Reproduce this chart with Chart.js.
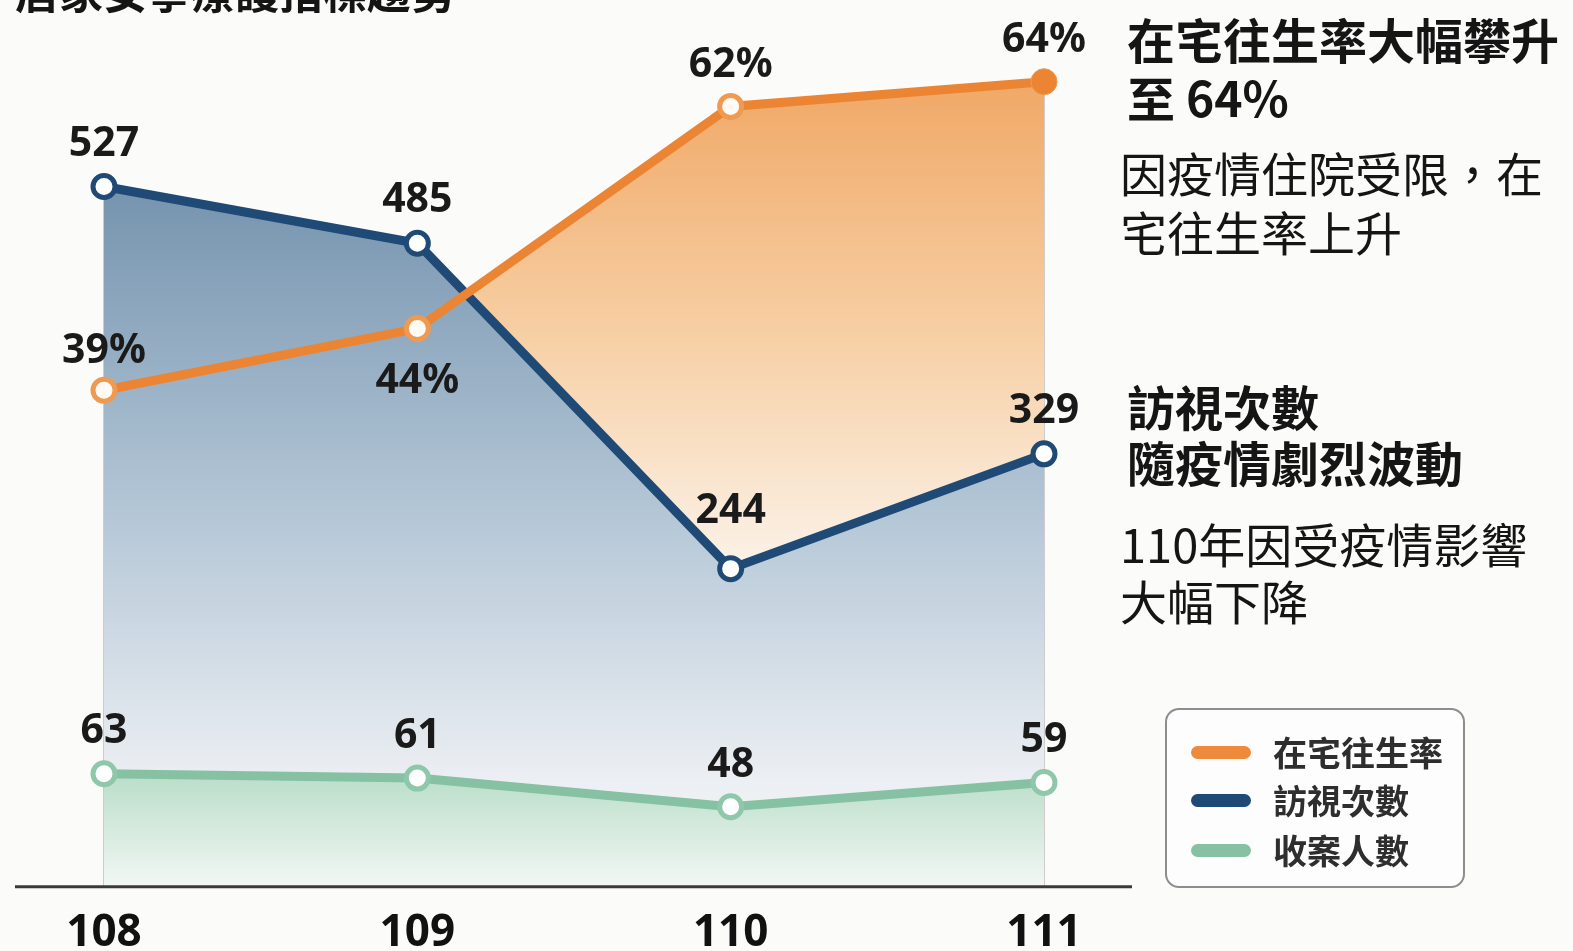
<!DOCTYPE html>
<html>
<head>
<meta charset="utf-8">
<script src="https://cdn.jsdelivr.net/npm/chart.js@4.4.1/dist/chart.umd.min.js"></script>
<style>
  html, body { margin: 0; padding: 0; background: #fbfbfa; }
  #wrap { position: relative; width: 1573px; height: 951px; overflow: hidden; }
  #chartBox { position: absolute; left: 0; top: 0; width: 1573px; height: 951px; }
  .cjk { font-family: "Noto Sans CJK TC", "Noto Sans", sans-serif; color: #151515; position: absolute; white-space: nowrap; }
  .head { font-weight: 700; font-size: 48px; }
  .body { font-weight: 400; font-size: 47px; }
  #legend { position: absolute; left: 1165px; top: 708px; width: 296px; height: 176px;
            border: 2px solid #8d8d8d; border-radius: 14px; background: rgba(255,255,255,0.55); }
  .row { position: absolute; left: 0; height: 40px; }
  .swatch { position: absolute; left: 24px; top: 14px; width: 60px; height: 13px; border-radius: 7px; }
  .lab { position: absolute; left: 106px; top: 0; line-height: 40px; font-size: 34px; font-weight: 700; color: #2e2e2e; }
</style>
</head>
<body>
<div id="wrap">
  <div id="chartBox"><canvas id="c"></canvas></div>
  <div class="cjk head" style="left:15px; top:-38px; font-size:44px; line-height:56px;">居家安寧療護指標趨勢</div>

  <div class="cjk head" style="left:1127px; top:9px; line-height:58px;">在宅往生率大幅攀升<br>至 64%</div>
  <div class="cjk body" style="left:1120px; top:142px; line-height:59px;">因疫情住院受限，在<br>宅往生率上升</div>

  <div class="cjk head" style="left:1127px; top:377px; line-height:56px;">訪視次數<br>隨疫情劇烈波動</div>
  <div class="cjk body" style="left:1120px; top:514px; line-height:57px;">110年因受疫情影響<br>大幅下降</div>

  <div id="legend">
    <div class="row" style="top:22px;"><div class="swatch" style="background:#ef8a3c;"></div><div class="cjk lab">在宅往生率</div></div>
    <div class="row" style="top:70px;"><div class="swatch" style="background:#1f4a75;"></div><div class="cjk lab">訪視次數</div></div>
    <div class="row" style="top:120px;"><div class="swatch" style="background:#86c1a3;"></div><div class="cjk lab">收案人數</div></div>
  </div>
</div>
<script>
// years (民國)
const years = ['108', '109', '110', '111'];
// 在宅往生率 (%)
const homeDeathRate = [39, 44, 62, 64];
// 訪視次數
const visits = [527, 485, 244, 329];
// 收案人數
const cases = [63, 61, 48, 59];

const ORANGE = '#ec8533';
const NAVY = '#1f4a75';
const GREEN = '#86c1a3';

function grad(ctx, stops, y0, y1) {
    const g = ctx.chart.ctx.createLinearGradient(0, y0, 0, y1);
    stops.forEach(s => g.addColorStop(s[0], s[1]));
    return g;
}

// value labels drawn next to each point
const labelPlugin = {
    id: 'pointLabels',
    afterDatasetsDraw(chart) {
        const ctx = chart.ctx;
        ctx.save();
        ctx.font = 'bold 41px "Noto Sans", sans-serif';
        ctx.fillStyle = '#1a1a1a';
        ctx.textAlign = 'center';
        ctx.textBaseline = 'middle';
        chart.data.datasets.forEach((ds, i) => {
            if (!ds.labelOffsets) return;
            const meta = chart.getDatasetMeta(i);
            meta.data.forEach((pt, j) => {
                const txt = ds.data[j] + (ds.suffix || '');
                ctx.fillText(txt, pt.x, pt.y + ds.labelOffsets[j] + 3);
            });
        });
        ctx.restore();
    }
};

// vertical drop lines and base line
const guidePlugin = {
    id: 'guides',
    beforeDatasetsDraw(chart) {
        const ctx = chart.ctx;
        const area = chart.chartArea;
        ctx.save();
        ctx.strokeStyle = 'rgba(120,120,120,0.55)';
        ctx.lineWidth = 1.3;
        years.forEach((y, j) => {
            let top = area.bottom;
            [0, 1, 2].forEach(i => {
                const p = chart.getDatasetMeta(i).data[j];
                if (p && p.y < top) top = p.y;
            });
            const x = chart.scales.x.getPixelForValue(j);
            ctx.beginPath();
            ctx.moveTo(x, top);
            ctx.lineTo(x, area.bottom);
            ctx.stroke();
        });
        ctx.restore();
    },
    afterDatasetsDraw(chart) {
        const ctx = chart.ctx;
        const b = chart.chartArea.bottom + 1;
        ctx.save();
        ctx.strokeStyle = '#3a3a3a';
        ctx.lineWidth = 3;
        ctx.beginPath();
        ctx.moveTo(15, b);
        ctx.lineTo(1132, b);
        ctx.stroke();
        ctx.restore();
    }
};

new Chart(document.getElementById('c'), {
    type: 'line',
    data: {
        labels: years,
        datasets: [{
            label: '在宅往生率',
            data: homeDeathRate,
            yAxisID: 'yP',
            order: 0,
            borderColor: ORANGE,
            borderWidth: 9,
            pointRadius: [11, 11, 11, 13],
            pointBorderWidth: [5, 5, 5, 1],
            pointBorderColor: '#ef9a50',
            pointBackgroundColor: ['#fffaf3', '#fffaf3', '#fffaf3', ORANGE],
            fill: false,
            clip: false,
            suffix: '%',
            labelOffsets: [-42, 50, -44, -44]
        }, {
            label: '訪視次數',
            data: visits,
            yAxisID: 'yV',
            order: 1,
            borderColor: NAVY,
            borderWidth: 9,
            pointRadius: 11,
            pointBorderWidth: 5,
            pointBorderColor: NAVY,
            pointBackgroundColor: '#ffffff',
            fill: false,
            clip: false,
            labelOffsets: [-45, -46, -60, -46]
        }, {
            label: '收案人數',
            data: cases,
            yAxisID: 'yC',
            order: 2,
            borderColor: GREEN,
            borderWidth: 9,
            pointRadius: 11,
            pointBorderWidth: 5,
            pointBorderColor: '#8fc7aa',
            pointBackgroundColor: '#ffffff',
            fill: false,
            clip: false,
            labelOffsets: [-45, -45, -44, -45]
        }, {
            label: 'cases-area',
            data: cases,
            yAxisID: 'yC',
            order: 3,
            borderWidth: 0,
            pointRadius: 0,
            fill: 'start',
            backgroundColor: ctx => {
                const a = ctx.chart.chartArea;
                if (!a) return 'rgba(0,0,0,0)';
                return grad(ctx, [[0, 'rgb(186,222,201)'], [1, 'rgb(242,247,244)']], 775, a.bottom);
            }
        }, {
            label: 'visits-area',
            data: visits,
            yAxisID: 'yV',
            order: 4,
            borderWidth: 0,
            pointRadius: 0,
            fill: 'start',
            backgroundColor: ctx => {
                const a = ctx.chart.chartArea;
                if (!a) return 'rgba(0,0,0,0)';
                return grad(ctx, [[0, 'rgb(118,148,175)'], [0.45, 'rgb(178,197,213)'],
                                  [0.85, 'rgb(236,239,243)'], [1, 'rgb(246,247,248)']], 190, a.bottom);
            }
        }, {
            label: 'rate-area',
            data: homeDeathRate,
            yAxisID: 'yP',
            order: 5,
            borderWidth: 0,
            pointRadius: 0,
            fill: 'start',
            backgroundColor: ctx => {
                const a = ctx.chart.chartArea;
                if (!a) return 'rgba(0,0,0,0)';
                return grad(ctx, [[0, 'rgb(240,168,102)'], [0.5, 'rgb(247,208,166)'],
                                  [1, 'rgba(252,247,242,1)']], 80, 600);
            }
        }]
    },
    options: {
        responsive: true,
        maintainAspectRatio: false,
        animation: false,
        layout: { padding: { left: 104, right: 529, top: 50, bottom: -30 } },
        plugins: {
            legend: { display: false },
            tooltip: { enabled: false }
        },
        scales: {
            x: {
                grid: { display: false, drawTicks: false },
                border: { display: false },
                ticks: {
                    color: '#111',
                    padding: 30,
                    font: { size: 44, weight: 'bold', family: '"Noto Sans", sans-serif', lineHeight: 0.8 }
                }
            },
            yV: { display: false, min: 9.1, max: 628.1 },
            yP: { display: false, min: -1.15, max: 66.57 },
            yC: { display: false, min: 12.1, max: 391.6 }
        }
    },
    plugins: [guidePlugin, labelPlugin]
});
</script>
</body>
</html>
